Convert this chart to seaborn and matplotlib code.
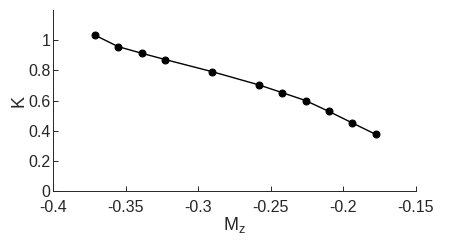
import numpy as np
import pandas as pd
import matplotlib
matplotlib.use("Agg")
import matplotlib.pyplot as plt
import seaborn as sns

# datos
mz = [-0.371, -0.3552, -0.3389, -0.3226, -0.2907, -0.2583, -0.2423, -0.226, -0.2099, -0.1938, -0.1776]
k = [1.033, 0.958, 0.914, 0.872, 0.793, 0.705, 0.654, 0.601, 0.529, 0.453, 0.377]
xticks = [-0.4, -0.35, -0.3, -0.25, -0.2, -0.15]
yticks = [0, 0.2, 0.4, 0.6, 0.8, 1]

sns.set_style("ticks")
plt.rcParams['font.family'] = ['Liberation Sans', 'DejaVu Sans']

df = pd.DataFrame({"Mz": mz, "K": k})

fig = plt.figure(figsize=(4.5, 2.45), dpi=100)
ax = fig.add_axes([0.118, 0.219, 0.806, 0.74])
sns.lineplot(data=df, x="Mz", y="K", color="black", lw=1, marker="o",
             markersize=5, markeredgecolor="black", ax=ax)

ax.set_xlim(-0.4, -0.15)
ax.set_ylim(0, 1.2)
ax.set_xticks(xticks)
ax.set_xticklabels([f"{t:g}" for t in xticks])
ax.set_yticks(yticks)
ax.set_yticklabels([f"{t:g}" for t in yticks])
ax.tick_params(direction="in", length=3.5, width=0.7, colors="#262626", labelsize=11.5)
ax.tick_params(axis="x", pad=6.5)
ax.tick_params(axis="y", pad=2)
for s in ["left", "bottom"]:
    ax.spines[s].set_color("#262626")
    ax.spines[s].set_linewidth(0.7)
sns.despine(ax=ax)
ax.set_xlabel(r"M$_\mathregular{z}$", fontsize=13, color="#262626", labelpad=0)
ax.set_ylabel("K", fontsize=13, color="#262626", labelpad=0)

plt.savefig("out.png", dpi=100)
